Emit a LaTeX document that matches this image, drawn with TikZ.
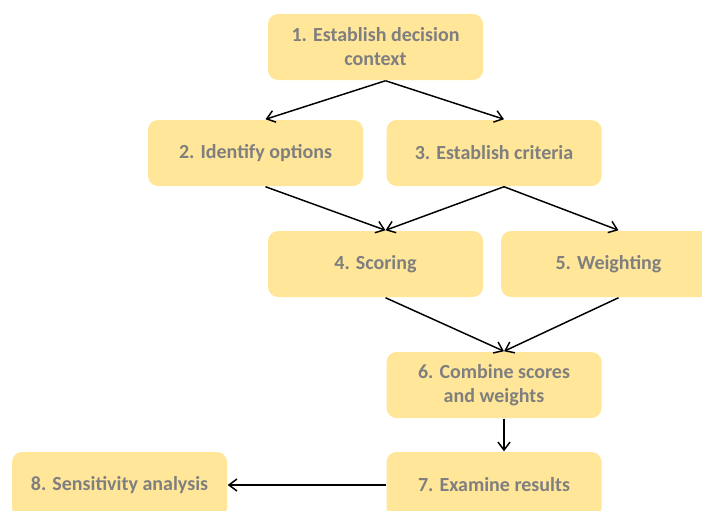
\documentclass[tikz,border=0pt]{standalone}
\usepackage{fontspec}
\setmainfont{Carlito}
\usepackage{xcolor}
\usetikzlibrary{positioning,arrows.meta}
\definecolor{boxfill}{HTML}{FFE699}
\definecolor{boxtext}{HTML}{7F7F7F}
\tikzset{stage/.style={fill=boxfill, rounded corners=7.5pt, minimum width=161.25pt, minimum height=49.5pt,
  inner sep=0pt, align=center, text=boxtext, font=\fontsize{15}{18}\selectfont\bfseries}}

\begin{document}
\begin{tikzpicture}[x=0.75pt,y=-0.75pt,>={Straight Barb[length=6pt,width=9pt]},line width=1.1pt]
\clip (0,0) rectangle (702,510);
\node[stage] (ctx) at (375.5,47) {1. Establish decision\\context};
\node[stage] (opt) at (255.5,153) {2. Identify options};
\node[stage] (crit) at (494,153) {3. Establish criteria};
\node[stage] (score) at (375.5,264) {4. Scoring};
\node[stage] (wgt) at (608.5,264) {5. Weighting};
\node[stage] (comb) at (494,385) {6. Combine scores\\and weights};
\node[stage] (exam) at (494,485) {7. Examine results};
\node[stage] (sens) at (119.5,485) {8. Sensitivity analysis};
\draw[->] ([xshift=7.5pt]ctx.south) -- ([xshift=7.5pt]opt.north);
\draw[->] ([xshift=7.5pt]ctx.south) -- ([xshift=7.5pt]crit.north);
\draw[->] ([xshift=7.5pt]opt.south) -- ([xshift=7.5pt]score.north);
\draw[->] ([xshift=7.5pt]crit.south) -- ([xshift=7.5pt]score.north);
\draw[->] ([xshift=7.5pt]crit.south) -- ([xshift=7.5pt]wgt.north);
\draw[->] ([xshift=7.5pt]score.south) -- ([xshift=7.5pt]comb.north);
\draw[->] ([xshift=7.5pt]wgt.south) -- ([xshift=7.5pt]comb.north);
\draw[->] ([xshift=7.5pt]comb.south) -- ([xshift=7.5pt]exam.north);
\draw[->] (exam.west) -- (sens.east);
\end{tikzpicture}
\end{document}
